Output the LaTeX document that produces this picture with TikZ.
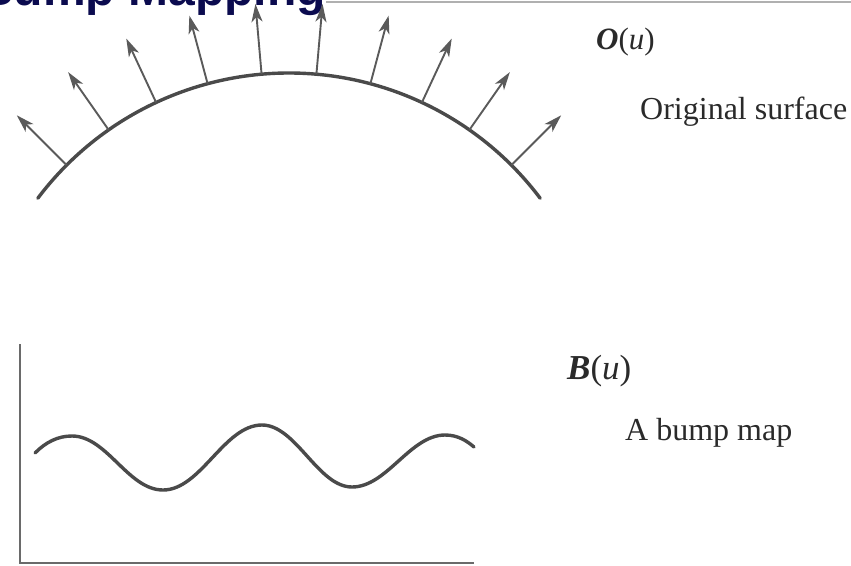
\documentclass[tikz,border=0pt]{standalone}
\usepackage{fontspec}
\setmainfont{Liberation Serif}
\newfontfamily\titlefont{Liberation Sans}
\usepackage{xcolor}
\usetikzlibrary{arrows.meta, calc}

\definecolor{surfgray}{HTML}{4A4A4A}
\definecolor{normalgray}{HTML}{5A5A5A}
\definecolor{axisgray}{HTML}{6A6A6A}
\definecolor{rulegray}{HTML}{B0B0B0}
\definecolor{titleblue}{HTML}{0B0B4F}
\definecolor{textgray}{HTML}{2A2A2A}

\begin{document}
\begin{tikzpicture}[x=1pt, y=-1pt, >={Stealth[length=18pt, width=11pt, inset=5pt]},
    surface/.style={draw=surfgray, line width=3.4pt, line cap=round},
    normal/.style={->, draw=normalgray, line width=1.9pt},
    axis/.style={draw=axisgray, line width=2.4pt},
    label/.style={inner sep=0pt, text=textgray, font=\fontsize{31}{34}\selectfont},
    caption/.style={inner sep=0pt, text=textgray, font=\fontsize{32}{35}\selectfont},
    title/.style={inner sep=0pt, text=titleblue, font=\titlefont\bfseries\fontsize{48}{52}\selectfont}]
    % cadre en pixels de la diapositive
    \useasboundingbox (0,0) rectangle (851,565);

    % --- titre coupe en haut ---
    \begin{scope}
        \clip (0,0) rectangle (851,565);
        \node[title, anchor=base east] (titre) at (326,5) {Bump Mapping};
    \end{scope}
    \draw[rulegray, line width=1.5pt] (titre.base east) ++(0,-3) -- (851,2);

    % --- surface d'origine : arc de cercle ---
    \coordinate (ctr) at (289,387.5);
    \def\R{314.5pt}
    \def\L{385pt}
    \draw[surface] ($(ctr)+(143:\R)$) arc[start angle=143, end angle=37, radius=\R];

    % normales a la surface
    \foreach \a [count=\i] in {45,55,...,135} {
        \coordinate (b\i) at ($(ctr)+(\a:\R)$);
        \coordinate (t\i) at ($(ctr)+(\a:\L)$);
        \draw[normal] (b\i) -- (t\i);
    }

    \node[label, anchor=base west] (ou) at (596,49) {\textbf{\textit{O}}(\textit{u})};
    \node[caption, anchor=base west] (orig) at (640,119) {Original surface};

    % --- carte de relief ---
    \coordinate (orig0) at (20,563);
    \draw[axis] (20,344) -- (orig0) -- (474,563);
    \draw[surface] (35,453) .. controls (46,442) and (58,436) .. (72,436)
        .. controls (107,436) and (128,490) .. (163,490)
        .. controls (201,490) and (224,425) .. (262,425)
        .. controls (296,425) and (318,487) .. (352,487)
        .. controls (387,487) and (410,435) .. (445,435)
        .. controls (458,435) and (467,441) .. (474,447);

    \node[label, anchor=base west, font=\fontsize{35}{38}\selectfont] (bu) at (567,379) {\textbf{\textit{B}}(\textit{u})};
    \node[caption, anchor=base west] (bump) at (625,440) {A bump map};
\end{tikzpicture}
\end{document}
